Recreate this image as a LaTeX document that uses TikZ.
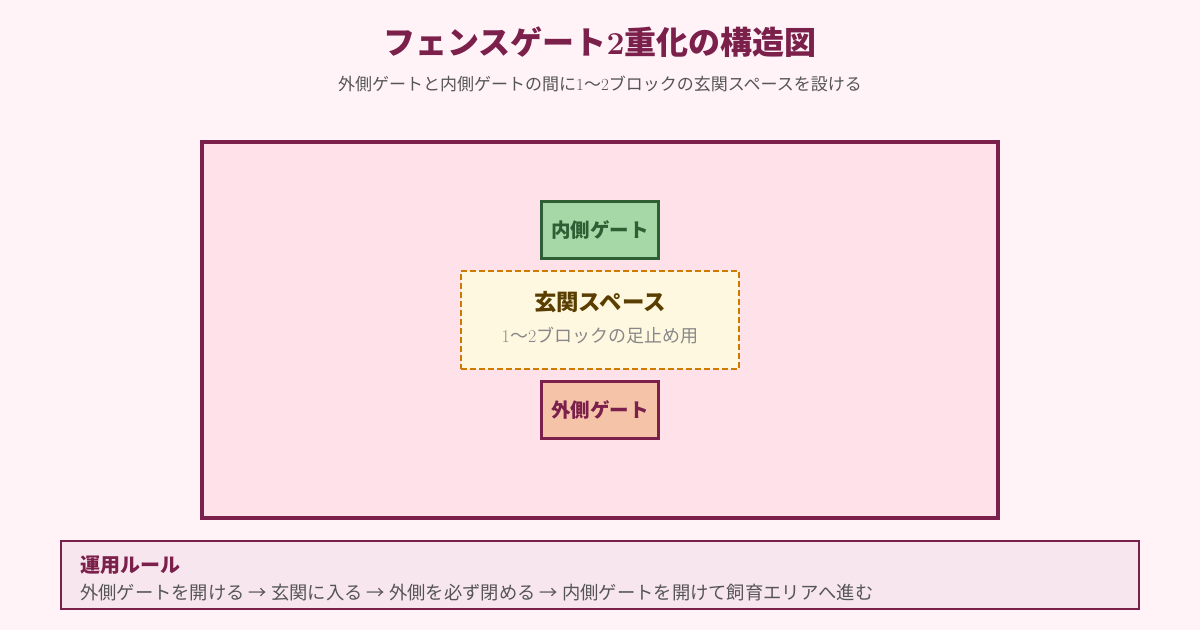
\documentclass[tikz,border=0pt]{standalone}
\usepackage{fontspec}
\setmainfont{Noto Sans CJK JP}
\newfontfamily\numfont{Latin Modern Roman}
\usetikzlibrary{positioning}

\definecolor{pagebg}{HTML}{FFF3F7}
\definecolor{yardfill}{HTML}{FFE1EA}
\definecolor{plum}{HTML}{7B1F4B}
\definecolor{innerfill}{HTML}{A5D8A6}
\definecolor{innerdark}{HTML}{2E5E34}
\definecolor{spacefill}{HTML}{FFF8E1}
\definecolor{spaceedge}{HTML}{CC7A00}
\definecolor{spacetext}{HTML}{5A3E00}
\definecolor{outerfill}{HTML}{F5C4A8}
\definecolor{rulefill}{HTML}{F8E6EE}
\definecolor{subgray}{HTML}{555555}
\definecolor{notegray}{HTML}{888888}

\tikzset{
  gatebox/.style={draw, line width=3pt, minimum width=117pt, minimum height=57pt,
    inner sep=0pt, font=\bfseries\fontsize{19.5}{22}\selectfont},
  spacebox/.style={draw=spaceedge, fill=spacefill, line width=2pt,
    dash pattern=on 6pt off 3pt, minimum width=278pt, minimum height=98pt, inner sep=0pt},
}

\begin{document}
\begin{tikzpicture}[x=1pt,y=-1pt]
		%%%%% START %%%%%
		
		\fill[pagebg] (0, 0) rectangle (1200, 630);
		\useasboundingbox (0, 0) rectangle (1200, 630);
		
		\node[text=plum, font=\bfseries\fontsize{32}{36}\selectfont] (title) at (600, 42)
			{フェンスゲート{\numfont\bfseries 2}重化の構造図};
		\node[text=subgray, font=\fontsize{17}{21}\selectfont] (subtitle) at (600, 84)
			{外側ゲートと内側ゲートの間に{\numfont 1}〜{\numfont 2}ブロックの玄関スペースを設ける};
		
		\draw[line width=4pt, draw=plum, fill=yardfill] (202, 142) rectangle (998, 518);
		
		\node[gatebox, draw=innerdark, fill=innerfill, text=innerdark] (inner) at (600, 230) {内側ゲート};
		\node[gatebox, draw=plum, fill=outerfill, text=plum] (outer) at (600, 410) {外側ゲート};
		
		\node[spacebox] (space) at (600, 320) {};
		\node[text=spacetext, font=\bfseries\fontsize{22.4}{26}\selectfont] (spacename) at (600, 302) {玄関スペース};
		\node[text=notegray, font=\fontsize{18}{21}\selectfont] (spacenote) at (600, 336)
			{{\numfont 1}〜{\numfont 2}ブロックの足止め用};
		
		\draw[line width=2pt, draw=plum, fill=rulefill] (61, 541) rectangle (1139, 609);
		\node[anchor=west, inner sep=0pt, text=plum, font=\bfseries\fontsize{20}{24}\selectfont] (rulehead) at (80, 565) {運用ルール};
		\node[anchor=west, inner sep=0pt, text=subgray, font=\fontsize{18.3}{22}\selectfont] (ruletext) at (80, 593)
			{外側ゲートを開ける → 玄関に入る → 外側を必ず閉める → 内側ゲートを開けて飼育エリアへ進む};
		
		%%%%% END %%%%%
\end{tikzpicture}
\end{document}
